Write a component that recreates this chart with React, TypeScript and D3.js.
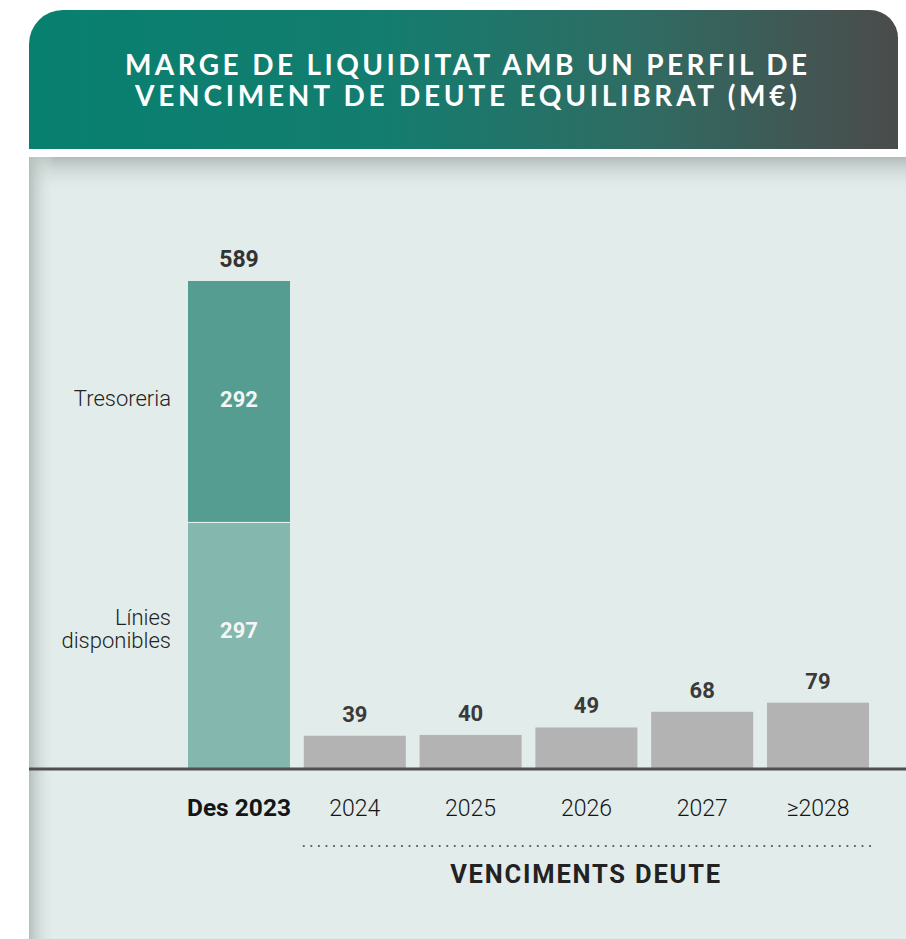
import React from "react";
import * as d3 from "d3";

const categories = ["Des 2023", "2024", "2025", "2026", "2027", "≥2028"];
const maturities = [null, 39, 40, 49, 68, 79];
const liquiditySegments = ["Línies disponibles", "Tresoreria"];
const liquidityValues = [297, 292];
const liquidityTotal = 589;
const titleLines = ["MARGE DE LIQUIDITAT AMB UN PERFIL DE", "VENCIMENT DE DEUTE EQUILIBRAT (M€)"];
const groupLabel = "VENCIMENTS DEUTE";

const W = 906;
const H = 939;
const FONT = "Roboto, 'Noto Sans', sans-serif";

export default function App() {
  const x = d3.scaleBand<string>().domain(categories).range([188, 869]).paddingInner(0.119).paddingOuter(0);
  const y = d3.scaleLinear().domain([0, liquidityTotal]).range([768, 281]);
  const bw = x.bandwidth();

  const stackData = [
    { key: liquiditySegments[0], v0: 0, v1: liquidityValues[0], fill: "#84b7ae" },
    { key: liquiditySegments[1], v0: liquidityValues[0], v1: liquidityValues[0] + liquidityValues[1], fill: "#559d90" },
  ];

  const dotStart = x("2024")!;
  const dotEnd = x("≥2028")! + bw + 3;
  const dots = d3.range(dotStart, dotEnd, 7.55);

  const headerPath = (() => {
    const x0 = 29, x1 = 898, y0 = 10, y1 = 149, r1 = 34, r2 = 28;
    const p = d3.path();
    p.moveTo(x0, y1);
    p.lineTo(x0, y0 + r1);
    p.arcTo(x0, y0, x0 + r1, y0, r1);
    p.lineTo(x1 - r2, y0);
    p.arcTo(x1, y0, x1, y0 + r2, r2);
    p.lineTo(x1, y1);
    p.closePath();
    return p.toString();
  })();

  return (
    <div style={{ position: "fixed", left: 0, top: 0 }}>
      <svg width={W} height={H} viewBox={`0 0 ${W} ${H}`} style={{ display: "block", background: "#ffffff" }}>
        <defs>
          <linearGradient id="hdr" x1="0" x2="1" y1="0" y2="0">
            <stop offset="0%" stopColor="#08806f" />
            <stop offset="40%" stopColor="#137d6f" />
            <stop offset="70%" stopColor="#2f6c63" />
            <stop offset="100%" stopColor="#4b4b4b" />
          </linearGradient>
          <linearGradient id="shTop" x1="0" x2="0" y1="0" y2="1">
            <stop offset="0%" stopColor="#b2bdba" />
            <stop offset="100%" stopColor="#e2ecea" stopOpacity="0" />
          </linearGradient>
          <linearGradient id="shLeft" x1="0" x2="1" y1="0" y2="0">
            <stop offset="0%" stopColor="#b5c0bd" />
            <stop offset="100%" stopColor="#e2ecea" stopOpacity="0" />
          </linearGradient>
        </defs>

        {/* header */}
        <path d={headerPath} fill="url(#hdr)" />
        {titleLines.map((t, i) => (
          <text
            key={i}
            x={466}
            y={75 + i * 31}
            textAnchor="middle"
            fill="#ffffff"
            fontFamily="Lato, 'Open Sans', sans-serif"
            fontWeight={700}
            fontSize={28}
            textLength={i === 0 ? 682 : 662}
            lengthAdjust="spacing"
          >
            {t}
          </text>
        ))}

        {/* body panel */}
        <rect x={29} y={157} width={W - 29} height={H - 157} fill="#e2ecea" />
        <rect x={29} y={157} width={W - 29} height={36} fill="url(#shTop)" />
        <rect x={29} y={157} width={26} height={H - 157} fill="url(#shLeft)" />

        {/* stacked liquidity bar */}
        {stackData.map((s) => (
          <rect
            key={s.key}
            x={x(categories[0])}
            y={y(s.v1)}
            width={bw}
            height={y(s.v0) - y(s.v1)}
            fill={s.fill}
          />
        ))}
        <line x1={x(categories[0])} x2={x(categories[0])! + bw} y1={y(liquidityValues[0])} y2={y(liquidityValues[0])} stroke="#eef5f3" strokeWidth={1} />

        {/* maturity bars */}
        {categories.map((c, i) =>
          maturities[i] == null ? null : (
            <rect key={c} x={x(c)} y={y(maturities[i] as number)} width={bw} height={y(0) - y(maturities[i] as number)} fill="#b3b3b3" />
          )
        )}

        {/* value labels */}
        <text x={x(categories[0])! + bw / 2} y={y(liquidityTotal) - 14} textAnchor="middle" fontFamily={FONT} fontWeight={700} fontSize={23} fill="#333333">
          {liquidityTotal}
        </text>
        {categories.map((c, i) =>
          maturities[i] == null ? null : (
            <text key={c} x={x(c)! + bw / 2} y={y(maturities[i] as number) - 14} textAnchor="middle" fontFamily={FONT} fontWeight={700} fontSize={22} fill="#3a3a3a">
              {maturities[i]}
            </text>
          )
        )}
        <text x={x(categories[0])! + bw / 2} y={y(stackData[1].v0 + liquidityValues[1] / 2) + 5} textAnchor="middle" fontFamily={FONT} fontWeight={700} fontSize={22} fill="#f4f6f5">
          {liquidityValues[1]}
        </text>
        <text x={x(categories[0])! + bw / 2} y={y(liquidityValues[0] / 2) - 7} textAnchor="middle" fontFamily={FONT} fontWeight={700} fontSize={22} fill="#f4f6f5">
          {liquidityValues[0]}
        </text>

        {/* segment names */}
        <text x={171} y={y(stackData[1].v0 + liquidityValues[1] / 2) + 4} textAnchor="end" fontFamily={FONT} fontWeight={300} fontSize={22} fill="#222222">
          {liquiditySegments[1]}
        </text>
        <text x={171} y={y(liquidityValues[0] / 2) - 20} textAnchor="end" fontFamily={FONT} fontWeight={300} fontSize={22} fill="#222222">
          <tspan x={171}>{liquiditySegments[0].split(" ")[0]}</tspan>
          <tspan x={171} dy={23}>{liquiditySegments[0].split(" ")[1]}</tspan>
        </text>

        {/* baseline */}
        <line x1={29} x2={W} y1={769} y2={769} stroke="#4d4f4f" strokeWidth={3} />

        {/* category labels */}
        {categories.map((c, i) => (
          <text
            key={c}
            x={x(c)! + bw / 2}
            y={816}
            textAnchor="middle"
            fontFamily={FONT}
            fontWeight={i === 0 ? 700 : 300}
            fontSize={i === 0 ? 24.5 : 23}
            fill="#151515"
          >
            {c}
          </text>
        ))}

        {/* dotted group line */}
        {dots.map((d, i) => (
          <circle key={i} cx={d} cy={846} r={1.1} fill="#555555" />
        ))}
        <text
          x={586}
          y={883}
          textAnchor="middle"
          fontFamily={FONT}
          fontWeight={700}
          fontSize={25.5}
          letterSpacing={1.8}
          fill="#222222"
        >
          {groupLabel}
        </text>
      </svg>
    </div>
  );
}
